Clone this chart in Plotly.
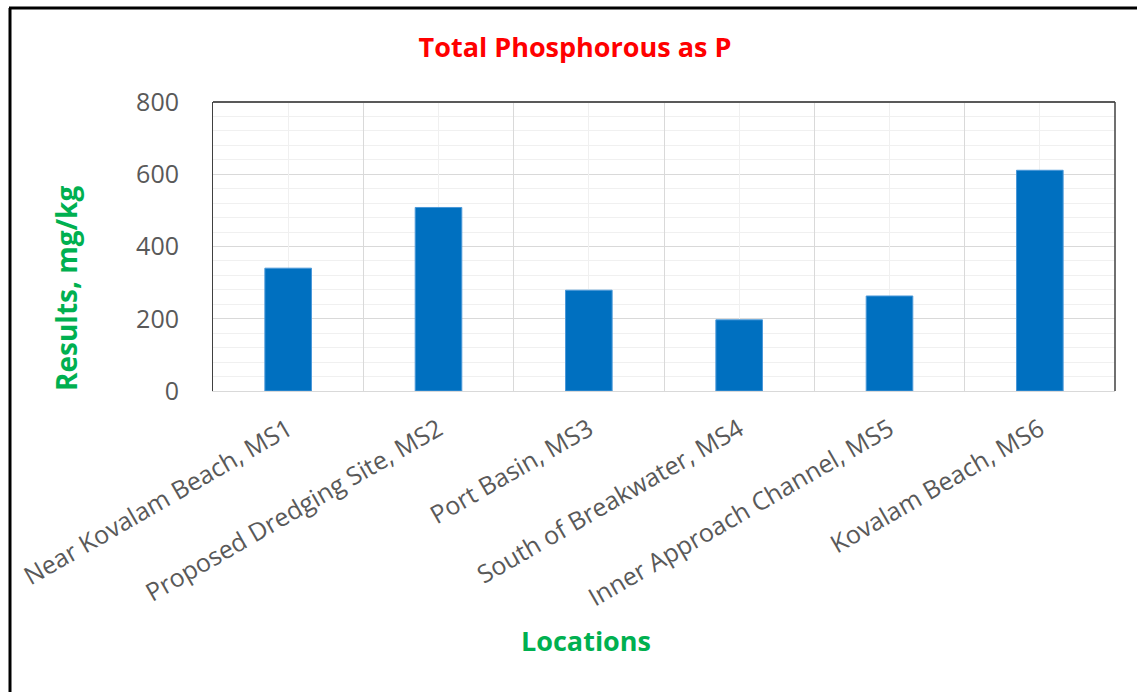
import plotly.graph_objects as go

categories = ["Near Kovalam Beach, MS1", "Proposed Dredging Site, MS2", "Port Basin, MS3",
              "South of Breakwater, MS4", "Inner Approach Channel, MS5", "Kovalam Beach, MS6"]
values = [340, 508, 279, 197, 263, 611]
y_ticks = [0, 200, 400, 600, 800]

W, H = 1137, 692
L, R, T, B = 213, 22, 102, 301
pw, ph = W - L - R, H - T - B

def px(x):
    return (x - L) / pw

def py(y):
    return (H - B - y) / ph

pos = list(range(len(categories)))

fig = go.Figure()
fig.add_trace(go.Bar(
    x=pos, y=values, width=0.31,
    marker=dict(color="#0070C0", line=dict(color="#4A98D8", width=1)),
    hoverinfo="x+y",
))

tick_font = dict(family="Open Sans", size=25, color="#595959")

fig.update_layout(
    width=W, height=H,
    margin=dict(l=L, r=R, t=T, b=B),
    paper_bgcolor="white", plot_bgcolor="white",
    showlegend=False,
    title=dict(text="<b>Total Phosphorous as P</b>", x=575 / W, xref="container", xanchor="center",
               y=1 - 48 / H, yref="container", yanchor="middle",
               font=dict(family="Open Sans", size=27, color="#FF0000")),
    xaxis=dict(
        range=[-0.5, len(categories) - 0.5],
        tickvals=[p - 0.5 for p in pos] + [len(categories) - 0.5],
        showticklabels=False, ticks="",
        showgrid=True, gridcolor="#D9D9D9", gridwidth=1,
        showline=True, linecolor="#D9D9D9", linewidth=1,
        zeroline=False, fixedrange=True,
    ),
    xaxis2=dict(
        overlaying="x", side="bottom", matches="x",
        range=[-0.5, len(categories) - 0.5],
        tickvals=pos, ticktext=categories, tickangle=-30,
        tickfont=tick_font, ticks="", ticklabelstandoff=18,
        showgrid=True, gridcolor="#F0F0F0", gridwidth=1,
        showline=False, zeroline=False,
    ),
    yaxis=dict(
        range=[0, 800], tickvals=y_ticks, tickfont=tick_font,
        showgrid=True, gridcolor="#D9D9D9", gridwidth=1,
        minor=dict(dtick=40, showgrid=True, gridcolor="#F0F0F0", gridwidth=1),
        showline=True, linecolor="#404040", linewidth=1, mirror=False,
        ticks="", ticklabelstandoff=28, zeroline=False,
    ),
)

# invisible trace to bind xaxis2
fig.add_trace(go.Scatter(x=pos, y=values, xaxis="x2", mode="markers",
                         marker=dict(opacity=0), hoverinfo="skip"))

# plot frame: top and right dark borders
fig.add_shape(type="line", xref="paper", yref="paper", x0=0, x1=1, y0=1, y1=1,
              line=dict(color="#595959", width=2))
fig.add_shape(type="line", xref="paper", yref="paper", x0=1, x1=1, y0=0, y1=1,
              line=dict(color="#404040", width=1.5))

# outer image frame (left and top)
fig.add_shape(type="line", xref="paper", yref="paper", x0=px(10), x1=px(10), y0=py(8), y1=py(H + 10),
              line=dict(color="black", width=3))
fig.add_shape(type="line", xref="paper", yref="paper", x0=px(9), x1=px(W + 10), y0=py(8), y1=py(8),
              line=dict(color="black", width=3))

# axis titles
fig.add_annotation(text="<b>Results, mg/kg</b>", xref="paper", yref="paper",
                   x=px(66), y=py(289), textangle=-90, showarrow=False,
                   xanchor="center", yanchor="middle",
                   font=dict(family="Open Sans", size=28, color="#00B050"))
fig.add_annotation(text="<b>Locations</b>", xref="paper", yref="paper",
                   x=px(586), y=py(640), showarrow=False,
                   xanchor="center", yanchor="middle",
                   font=dict(family="Open Sans", size=27, color="#00B050"))

fig.write_html("out.html", config={"displayModeBar": False},
               post_script="document.body.style.margin='0';")
